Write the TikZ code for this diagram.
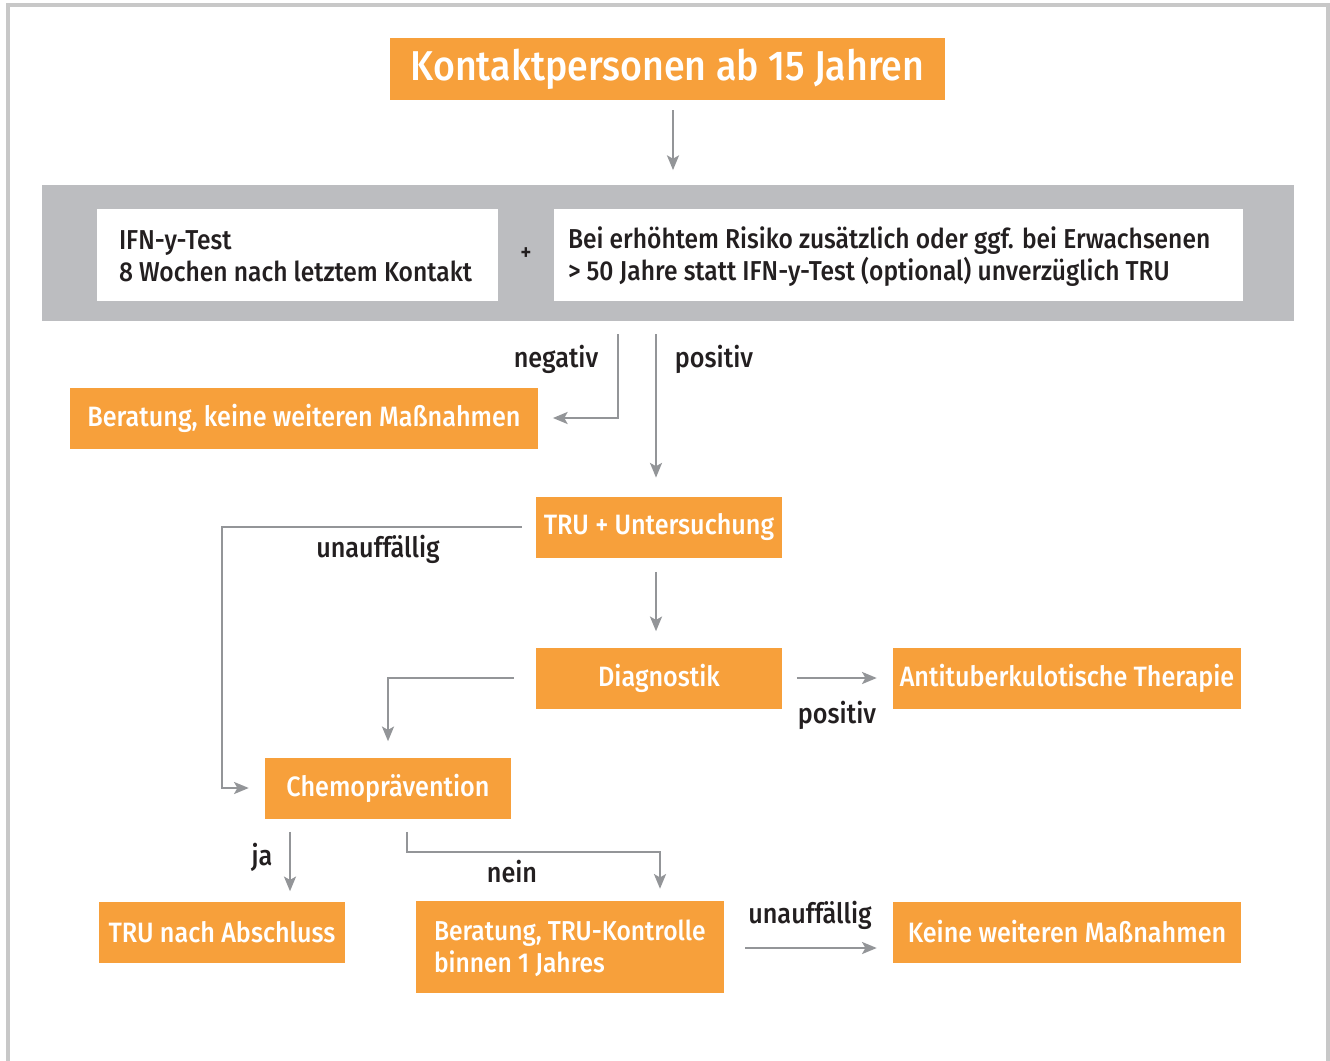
\documentclass[tikz,border=0pt]{standalone}
\usepackage{fontspec}
\setmainfont{Fira Sans}[UprightFont=* Medium, FakeStretch=0.9]
\usetikzlibrary{arrows.meta}
\definecolor{orng}{HTML}{F7A03B}
\definecolor{band}{HTML}{BCBDC0}
\definecolor{arrg}{HTML}{939598}
\definecolor{frm}{HTML}{C8C8C8}
\definecolor{txt}{HTML}{231F20}
\tikzset{
  obox/.style={fill=orng, text=white, inner sep=0pt, font=\fontsize{21pt}{24pt}\selectfont},
  wbox/.style={fill=white, inner sep=0pt},
  btxt/.style={inner sep=0pt, align=left, anchor=west, font=\fontsize{20.5pt}{24pt}\selectfont},
  lbl/.style={text=txt, inner sep=0pt, font=\fontsize{21pt}{24pt}\selectfont},
  arr/.style={draw=arrg, line width=1.6pt, -{Stealth[length=11pt,width=9pt,inset=2.5pt]}},
}
\begin{document}
\begin{tikzpicture}[x=0.75pt,y=-0.75pt]
\useasboundingbox (0,0) rectangle (1330,1060);
\fill[white] (0,0) rectangle (1330,1060);
% outer frame
\draw[frm, line width=2.4pt] (8,1070) -- (8,5) -- (1328,5) -- (1328,1070);

% title
\node[obox, minimum width=555*0.75pt, minimum height=62*0.75pt, font=\fontsize{31.3pt}{34pt}\selectfont] (title) at (667.5,69) {Kontaktpersonen ab 15 Jahren};

% gray band
\node[fill=band, minimum width=1252*0.75pt, minimum height=136*0.75pt, inner sep=0pt] (band) at (668,253) {};
\node[wbox, minimum width=401*0.75pt, minimum height=92*0.75pt] (ifn) at (297.5,255) {};
\node[btxt, text=txt] (ifnt) at ([xshift=16.5pt,yshift=-1pt]ifn.west)
  {IFN-y-Test\\8 Wochen nach letztem Kontakt};
\node[lbl, font=\fontsize{18pt}{20pt}\selectfont] (plus) at (526,254) {+};
\node[wbox, minimum width=689*0.75pt, minimum height=92*0.75pt] (risk) at (898.5,255) {};
\node[btxt, text=txt] (riskt) at ([xshift=10.5pt,yshift=-1pt]risk.west)
  {Bei erhöhtem Risiko zusätzlich oder ggf. bei Erwachsenen\\> 50 Jahre statt IFN-y-Test (optional) unverzüglich TRU};

% boxes
\node[obox, minimum width=468*0.75pt, minimum height=61*0.75pt] (ber1) at (304,418) {Beratung, keine weiteren Maßnahmen};
\node[obox, minimum width=246*0.75pt, minimum height=61*0.75pt] (tru) at (659,527) {TRU + Untersuchung};
\node[obox, minimum width=246*0.75pt, minimum height=61*0.75pt] (diag) at (659,678) {Diagnostik};
\node[obox, minimum width=348*0.75pt, minimum height=61*0.75pt] (anti) at (1067,678) {Antituberkulotische Therapie};
\node[obox, minimum width=246*0.75pt, minimum height=61*0.75pt] (chemo) at (388,788) {Chemoprävention};
\node[obox, minimum width=246*0.75pt, minimum height=61*0.75pt] (tra) at (222,932) {TRU nach Abschluss};
\node[obox, minimum width=308*0.75pt, minimum height=92*0.75pt] (bt) at (570,947) {};
\node[btxt, text=white] (btt) at ([xshift=13.5pt,yshift=-1pt]bt.west) {Beratung, TRU-Kontrolle\\binnen 1 Jahres};
\node[obox, minimum width=348*0.75pt, minimum height=61*0.75pt] (keine) at (1067,932) {Keine weiteren Maßnahmen};

% labels
\node[lbl] (lneg) at (556,359) {negativ};
\node[lbl] (lpos) at (714,359) {positiv};
\node[lbl] (lunauf) at (378,549) {unauffällig};
\node[lbl] (lpos2) at (837,715) {positiv};
\node[lbl] (lja) at (262,857) {ja};
\node[lbl] (lnein) at (512,872) {nein};
\node[lbl] (lunauf2) at (810,915) {unauffällig};

% helper coordinates
\coordinate (cL) at (222,650);
\coordinate (cN) at (500,852);

% connectors
\draw[arr, shorten <=7.5pt, shorten >=11pt] (title.south -| 673,0) -- (band.north -| 673,0);
\draw[arr, shorten <=9.75pt, shorten >=11pt] (band.south -| 618,0) |- (ber1.east);
\draw[arr, shorten <=9.75pt, shorten >=14pt] (band.south -| 656,0) -- (tru.north -| 656,0);
\draw[arr, shorten <=10.5pt, shorten >=12pt] (tru.west) -| (cL) |- (chemo.west);
\draw[arr, shorten <=10.5pt, shorten >=12pt] (tru.south -| 656,0) -- (diag.north -| 656,0);
\draw[arr, shorten <=16.5pt, shorten >=12pt] (diag.west) -| (chemo.north);
\draw[arr, shorten <=11pt, shorten >=12pt] (diag.east) -- (anti.west);
\draw[arr, shorten <=9.75pt, shorten >=7.5pt] (chemo.south -| 290,0) -- (tra.north -| 290,0);
\draw[arr, shorten <=9.75pt, shorten >=9pt] (chemo.south -| 407,0) |- (cN) -| (bt.north -| 660,0);
\draw[arr, shorten <=15.75pt, shorten >=12pt] ([yshift=-0.75pt]bt.east) -- ([yshift=-0.75pt]bt.east -| keine.west);
\end{tikzpicture}
\end{document}
